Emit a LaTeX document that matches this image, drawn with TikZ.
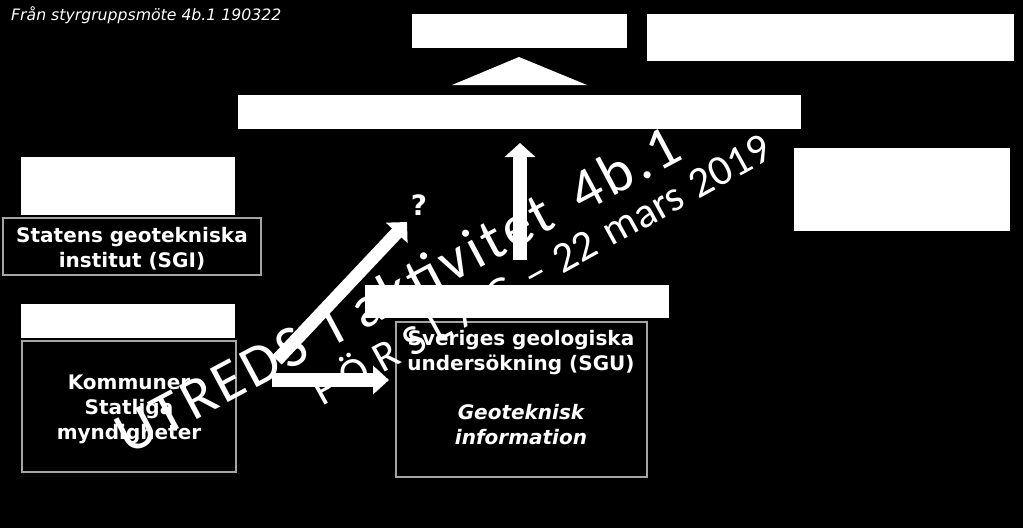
\documentclass[tikz,border=0pt]{standalone}
\usepackage{fontspec}
\setmainfont{DejaVu Sans}
\newfontfamily\wmfont[LetterSpace=6]{Carlito}
\newfontfamily\wmplain{Carlito}
\newfontfamily\wmspaced[LetterSpace=25]{Carlito}
\usetikzlibrary{arrows.meta}
\definecolor{kedge}{RGB}{165,165,165}
\begin{document}
\begin{tikzpicture}[x=1pt,y=-1pt,
  wbox/.style={draw=none, fill=white, inner sep=0pt, outer sep=0pt},
  kbox/.style={draw=kedge, line width=1.2pt, fill=black, inner sep=0pt, outer sep=0pt},
  lbl/.style={text=white, font=\bfseries\fontsize{20}{25}\selectfont, align=center, inner sep=0pt},
  fat/.style={white, line width=14pt, -{Triangle[width=29pt,length=15pt]}},
  wm/.style={text=white, inner sep=0pt, anchor=base west},
  wmA/.style={wm, font=\wmfont\fontsize{59}{59}\selectfont},
  wmB/.style={wm, font=\wmplain\fontsize{43}{43}\selectfont}
]
% background / bounding box
\fill[black] (0,0) rectangle (1023,528);
\useasboundingbox (0,0) rectangle (1023,528);

% header
\node[text=white, anchor=base west, inner sep=0pt, font=\itshape\fontsize{15.7}{18}\selectfont] (hdr) at (11,20) {Från styrgruppsmöte 4b.1 190322};

% white boxes
\node[wbox, minimum width=215pt, minimum height=34pt] (A) at (519.5,31) {};
\node[wbox, minimum width=367pt, minimum height=47pt] (B) at (830.5,37.5) {};
\fill[white] (452,85) -- (587,85) -- (519,57) -- cycle;
\node[wbox, minimum width=563pt, minimum height=34pt] (bar) at (519.5,112) {};
\node[wbox, minimum width=216pt, minimum height=83pt] (C) at (902,189.5) {};
\node[wbox, minimum width=214pt, minimum height=58pt] (D) at (128,186) {};
\node[wbox, minimum width=214pt, minimum height=34pt] (E) at (128,321) {};
\node[wbox, minimum width=304pt, minimum height=33pt] (F) at (517,301.5) {};

% framed black boxes
\node[kbox, minimum width=258pt, minimum height=57pt] (sgi) at (132,246.5) {};
\node[lbl] (sgit) at (132,249) {Statens geotekniska\\institut (SGI)};
\node[kbox, minimum width=214pt, minimum height=131pt] (kom) at (129,406.5) {};
\node[lbl] (komt) at (129,409) {Kommuner\\Statliga\\myndigheter};
\node[kbox, minimum width=251pt, minimum height=155pt] (sgu) at (521.5,399.5) {};
\node[lbl] (sgut) at (521,388) {Sveriges geologiska\\undersökning (SGU)\\[24pt]\itshape Geoteknisk\\\itshape information};

% question mark
\node[text=white, inner sep=0pt, font=\bfseries\fontsize{28}{28}\selectfont] (q) at (419,205) {?};

% arrows
\coordinate (d1) at (277,360);
\coordinate (d2) at (407,222);
\draw[fat, line width=13pt] (d1) -- (d2);
\coordinate (h1) at (272,380);
\coordinate (h2) at (389,380);
\draw[fat, -{Triangle[width=28pt,length=16pt]}] (h1) -- (h2);
\coordinate (u1) at (520,260);
\coordinate (u2) at (520,143);
\draw[fat, -{Triangle[width=30pt,length=14pt]}] (u1) -- (u2);

% watermark
\begin{scope}[shift={(128,456)}, rotate=28.1, transform shape]
\node[wmA] (w1) at (0,0) {UTREDS};
\node[wmA] (w2) at (235,0) {I};
\node[wmA] (w3) at (267,0) {aktivitet};
\node[wmA] (w4) at (515,0) {4b.1};
\end{scope}
\begin{scope}[shift={(322,407)}, rotate=28.9, transform shape]
\node[wm, font=\wmspaced\fontsize{43}{43}\selectfont] (w5) at (0,0) {FÖRSLAG};
\node[wmB] (w6) at (240.8,0) {–};
\node[wmB] (w7) at (274,0) {22};
\node[wmB] (w8) at (331,0) {mars};
\node[wmB] (w9) at (430,0) {2019};
\end{scope}
\end{tikzpicture}
\end{document}
